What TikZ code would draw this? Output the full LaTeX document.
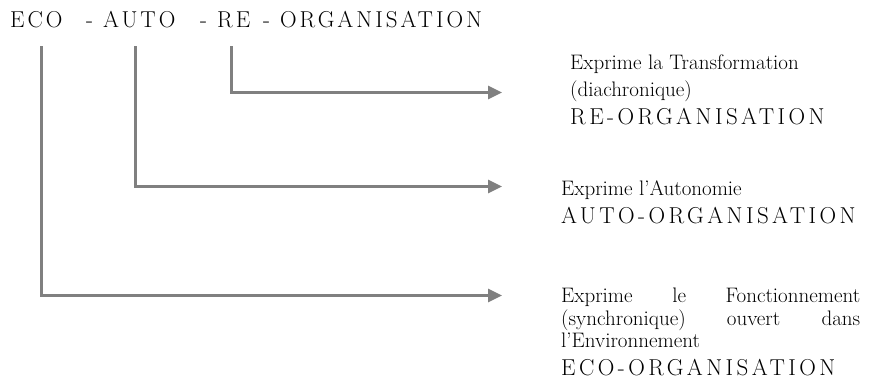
\documentclass[tikz,border=0pt]{standalone}
\usepackage{fontspec}
\usetikzlibrary{arrows.meta}
\definecolor{linegray}{RGB}{128,128,128}
\newfontfamily\titlefont[LetterSpace=13]{Latin Modern Roman}
\newfontfamily\capsfont[LetterSpace=15]{Latin Modern Roman}
\begin{document}
\begin{tikzpicture}[x=1pt,y=-1pt,
  conn/.style={draw=linegray,line width=3pt,line cap=butt,line join=miter,-{Triangle[length=14pt,width=13pt]}},
  small/.style={inner sep=0pt,anchor=base west,font=\fontsize{21}{25}\selectfont},
  big/.style={inner sep=0pt,anchor=base west,font=\fontsize{23}{27}\capsfont},
  title/.style={inner sep=0pt,anchor=base west,font=\fontsize{23}{27}\titlefont}]
\useasboundingbox (0,0) rectangle (873,389);
% title
\node[title] (tEco) at (10,27) {ECO};
\node[title] (tDash1) at (86,27) {-};
\node[title] (tAuto) at (103,27) {AUTO};
\node[title] (tDash2) at (200,27) {-};
\node[title] (tRe) at (217,27) {RE};
\node[title] (tDash3) at (263,27) {-};
\node[title] (tOrg) at (280,27) {ORGANISATION};
% start points under title
\coordinate (ecoTop) at (41,46);
\coordinate (autoTop) at (135,46);
\coordinate (reTop) at (231,46);
% arrow ends
\coordinate (reEnd) at (502,92.5);
\coordinate (autoEnd) at (502,186.5);
\coordinate (ecoEnd) at (502,295.5);
% RE block
\node[small] (re1) at (570,69) {Exprime la Transformation};
\node[small] (re2) at (570,96) {(diachronique)};
\node[big] (re3) at (570,124) {RE-ORGANISATION};
% AUTO block
\node[small] (auto1) at (561,195) {Exprime l’Autonomie};
\node[big] (auto2) at (561,223) {AUTO-ORGANISATION};
% ECO block
\node[small] (eco1) at (561,302) {\hbox to 299pt{Exprime\hfill le\hfill Fonctionnement}};
\node[small] (eco2) at (561,325) {\hbox to 299pt{(synchronique)\hfill ouvert\hfill dans}};
\node[small] (eco3) at (561,347) {l’Environnement};
\node[big] (eco4) at (561,375) {ECO-ORGANISATION};
% connectors
\draw[conn] (reTop) |- (reEnd);
\draw[conn] (autoTop) |- (autoEnd);
\draw[conn] (ecoTop) |- (ecoEnd);
\end{tikzpicture}
\end{document}
